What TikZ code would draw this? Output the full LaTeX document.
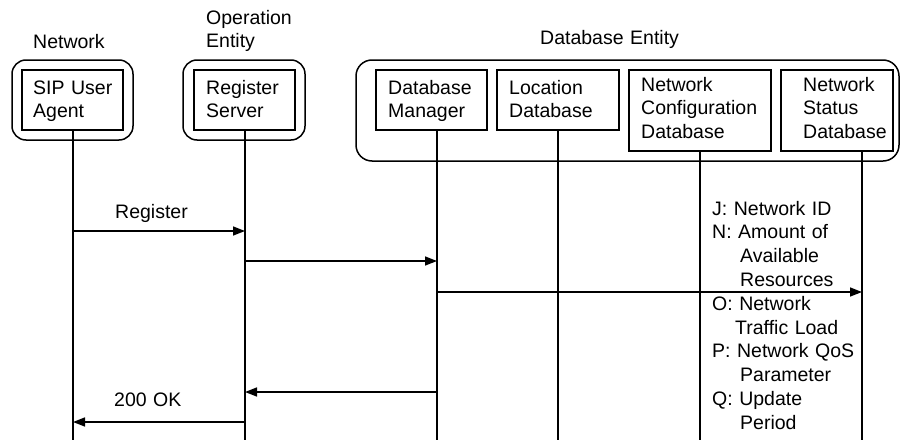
\documentclass[tikz,border=0pt]{standalone}
\usepackage{fontspec}
\setmainfont{Liberation Sans}
\usetikzlibrary{arrows.meta}
\tikzset{
  lbl/.style={inner sep=0pt, anchor=base west, text width=220pt, align=left,
              font=\fontsize{19.5}{23.8}\selectfont},
  box/.style={draw, line width=1.5pt, inner sep=0pt},
  grp/.style={draw, line width=1.5pt, rounded corners=14pt, inner sep=0pt},
  life/.style={line width=1.5pt},
  msg/.style={line width=1.5pt, -{Triangle[length=12pt,width=9pt]}},
}
\begin{document}
\begin{tikzpicture}[x=1pt,y=-1pt]
\useasboundingbox (0,0) rectangle (901,439);

% group boxes
\node[grp, minimum width=121pt, minimum height=80pt] (gsip) at (72.5,100) {};
\node[grp, minimum width=122pt, minimum height=80pt] (greg) at (244,100) {};
\node[grp, rounded corners=16pt, minimum width=543pt, minimum height=101pt] (gdb) at (627.5,110.5) {};

% group labels
\node[lbl] (tnet) at (33,48) {Network};
\node[lbl] (top) at (206,24) {Operation\\Entity};
\node[lbl] (tdb) at (540,44) {Database Entity};

% entity boxes
\node[box, minimum width=101pt, minimum height=60pt] (sip) at (72.5,100) {};
\node[box, minimum width=101pt, minimum height=60pt] (reg) at (244.5,100) {};
\node[box, minimum width=111pt, minimum height=60pt] (dm) at (431.5,100) {};
\node[box, minimum width=122pt, minimum height=60pt] (ld) at (558,100) {};
\node[box, minimum width=142pt, minimum height=81pt] (ncd) at (700,110.5) {};
\node[box, minimum width=112pt, minimum height=81pt] (nsd) at (837,110.5) {};

% box texts
\node[lbl] (tsip) at (33,94) {SIP User\\Agent};
\node[lbl] (treg) at (206,94) {Register\\Server};
\node[lbl] (tdm) at (388,94) {Database\\Manager};
\node[lbl] (tld) at (509,94) {Location\\Database};
\node[lbl] (tncd) at (641,91) {Network\\Configuration\\Database};
\node[lbl] (tnsd) at (803,91) {Network\\Status\\Database};

% lifeline ends
\coordinate (e1) at (73,440);
\coordinate (e2) at (245,440);
\coordinate (e3) at (437,440);
\coordinate (e4) at (558,440);
\coordinate (e5) at (700,440);
\coordinate (e6) at (862,440);

\draw[life] (sip.south -| e1) -- (e1);
\draw[life] (reg.south -| e2) -- (e2);
\draw[life] (dm.south -| e3) -- (e3);
\draw[life] (ld.south -| e4) -- (e4);
\draw[life] (ncd.south -| e5) -- (e5);
\draw[life] (nsd.south -| e6) -- (e6);

% message levels
\coordinate (m1) at (0,231);
\coordinate (m2) at (0,261);
\coordinate (m3) at (0,292);
\coordinate (m4) at (0,392);
\coordinate (m5) at (0,422);

\draw[msg] (e1 |- m1) -- (e2 |- m1);
\draw[msg] (e2 |- m2) -- (e3 |- m2);
\draw[msg] (e3 |- m3) -- (e6 |- m3);
\draw[msg] (e3 |- m4) -- (e2 |- m4);
\draw[msg] (e2 |- m5) -- (e1 |- m5);

\node[lbl] (treg1) at (115,218) {Register};
\node[lbl] (tok) at (114,406) {200 OK};

\node[lbl] (tparam) at (712,215) {J: Network ID\\
N: Amount of\\
\hspace*{28pt}Available\\
\hspace*{28pt}Resources\\
O: Network\\
\hspace*{23pt}Traffic Load\\
P: Network QoS\\
\hspace*{28pt}Parameter\\
Q: Update\\
\hspace*{28pt}Period};
\end{tikzpicture}
\end{document}
